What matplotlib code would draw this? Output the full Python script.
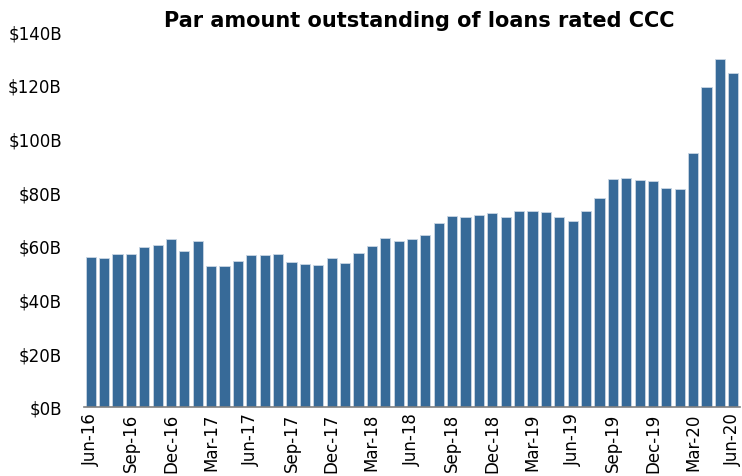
import matplotlib.pyplot as plt
import numpy as np

# monthly, Jun-16 .. Jun-20 (billions USD)
months = ['Jun-16', 'Jul-16', 'Aug-16', 'Sep-16', 'Oct-16', 'Nov-16', 'Dec-16', 'Jan-17', 'Feb-17',
          'Mar-17', 'Apr-17', 'May-17', 'Jun-17', 'Jul-17', 'Aug-17', 'Sep-17', 'Oct-17', 'Nov-17',
          'Dec-17', 'Jan-18', 'Feb-18', 'Mar-18', 'Apr-18', 'May-18', 'Jun-18', 'Jul-18', 'Aug-18',
          'Sep-18', 'Oct-18', 'Nov-18', 'Dec-18', 'Jan-19', 'Feb-19', 'Mar-19', 'Apr-19', 'May-19',
          'Jun-19', 'Jul-19', 'Aug-19', 'Sep-19', 'Oct-19', 'Nov-19', 'Dec-19', 'Jan-20', 'Feb-20',
          'Mar-20', 'Apr-20', 'May-20', 'Jun-20']
par_amount = [55.8, 55.3, 57.0, 57.0, 59.6, 60.2, 62.6, 57.9, 61.7,
              52.4, 52.4, 54.5, 56.6, 56.6, 57.0, 53.9, 53.4, 53.0,
              55.3, 53.8, 57.5, 60.0, 63.0, 61.9, 62.7, 64.1, 68.5,
              71.0, 70.7, 71.6, 72.3, 70.6, 73.1, 73.0, 72.5, 70.7,
              69.4, 73.1, 77.9, 84.9, 85.1, 84.6, 84.2, 81.4, 81.0,
              94.6, 119.0, 129.4, 124.4]
yticks = [0, 20, 40, 60, 80, 100, 120, 140]

fig = plt.figure(figsize=(7.42, 4.77), dpi=100)
ax = fig.add_axes([84 / 742, 69 / 477, 656 / 742, 376 / 477])

x = np.arange(len(months))
ax.bar(x, par_amount, width=0.76, color='#376a98', edgecolor='#c9d6e3', linewidth=0.6)

ax.set_xlim(-0.5, len(months) - 0.5)
ax.set_ylim(0, 140)
ax.set_yticks(yticks)
ax.set_yticklabels(['$%dB' % v for v in yticks], fontsize=12)
ax.set_xticks(x[::3])
ax.set_xticklabels(months[::3], rotation=90, fontsize=12)
ax.tick_params(axis='y', length=0, pad=16)
ax.tick_params(axis='x', length=0, pad=4)

for s in ['top', 'right', 'left']:
    ax.spines[s].set_visible(False)
ax.spines['bottom'].set_color('#808080')
ax.spines['bottom'].set_linewidth(1.2)

fig.text(0.565, 0.955, 'Par amount outstanding of loans rated CCC', ha='center', va='center',
         fontsize=15, fontweight='bold')

plt.savefig('out.png', dpi=100)
